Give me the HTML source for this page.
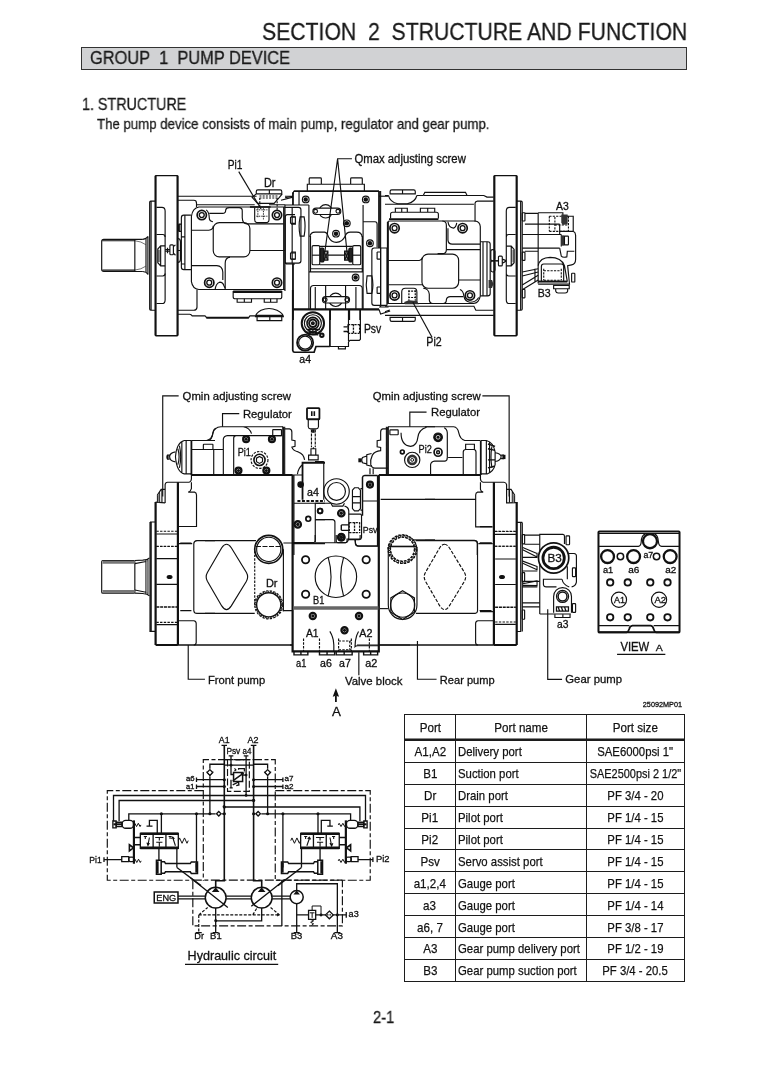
<!DOCTYPE html>
<html lang="en"><head><meta charset="utf-8"><title>Section 2 Structure and Function - Pump Device</title>
<style>
html,body{margin:0;padding:0;background:#fff;}
body{width:775px;height:1067px;position:relative;overflow:hidden;font-family:"Liberation Sans",sans-serif;color:#1a1a1a;}
.t{-webkit-text-stroke:0.3px #1a1a1a;position:absolute;white-space:nowrap;transform-origin:0 0;line-height:1;}
#bar{position:absolute;left:81px;top:47px;width:604px;height:21px;background:#d1d2d4;border:1px solid #333;}
svg{position:absolute;left:0;top:0;}
body>*{will-change:transform;}
svg *{vector-effect:non-scaling-stroke;}
svg text{font-family:"Liberation Sans",sans-serif;fill:#111;}
table{position:absolute;left:404px;top:714px;width:281px;table-layout:fixed;border-collapse:collapse;font-size:13.5px;color:#111;-webkit-text-stroke:0.25px #111;}
td,th{border:1px solid #1c1c1c;height:20.9px;padding:0;font-weight:normal;white-space:nowrap;text-align:center;overflow:visible;line-height:20px;}
td+td,th+th{border-left-color:#666;}
td:last-child,th:last-child{border-right-color:#1c1c1c;}
th{height:24px;border-bottom:2px solid #1c1c1c;line-height:22px;box-shadow:inset 0 -1px 0 #8a8a8a;}
td.l{text-align:left;padding-left:2px;}
.c{display:inline-block;position:relative;top:1px;margin:0 -20px;transform:scaleX(.86);transform-origin:50% 50%;}
.c.w{transform:scaleX(.81);}
td:last-child .c{transform:scaleX(.84);}
td:last-child .c.w{transform:scaleX(.81);}
.s{display:inline-block;position:relative;top:1px;transform:scaleX(.842);transform-origin:0 50%;}
</style></head><body>
<div class="t" style="left:262.0px;top:20.3px;font-size:24.6px;transform:scaleX(0.8620);">SECTION  2  STRUCTURE AND FUNCTION</div>
<div id="bar"></div>
<div class="t" style="left:89.5px;top:49.3px;font-size:18.0px;transform:scaleX(0.9103);">GROUP  1  PUMP DEVICE</div>
<div class="t" style="left:82.0px;top:95.7px;font-size:16.5px;transform:scaleX(0.8685);">1. STRUCTURE</div>
<div class="t" style="left:97.0px;top:115.9px;font-size:15.0px;transform:scaleX(0.8815);">The pump device consists of main pump, regulator and gear pump.</div>
<div class="t" style="left:372.8px;top:1009.5px;font-size:16.0px;transform:scaleX(0.9167);">2-1</div>
<svg width="775" height="1067" viewBox="0 0 775 1067" fill="none" stroke="#111" stroke-width="1.15" stroke-linecap="butt">
<g transform="translate(95 170) scale(0.15936)" >
<path d="M300,435 L55,435 Q42,435 42,448 L42,625 Q42,637 55,637 L300,637" /><path d="M46,444 L250,444 M46,628 L250,628 M250,435 L250,637" /><path d="M300,435 Q325,432 332,418 M300,637 Q325,640 332,655" /><path d="M250,444 Q290,448 318,468 M250,628 Q290,624 318,604"  stroke-width="0.6"/><path d="M320,432 L320,640 M332,418 L332,655" /><path d="M378,195 L350,195 Q343,195 343,202 L343,873 Q343,880 350,880 L378,880 M352,195 L352,880" /><rect x="378" y="35" width="142" height="1005" rx="5" stroke-width="1.3"/><path d="M381,38 L381,1037 M517,38 L517,1037" stroke-width="1.8"/><path d="M386,235 L420,235 Q440,235 440,258 L440,815 Q440,838 420,838 L386,838" /><path d="M386,405 L425,405 Q440,405 440,420 M386,665 L425,665 Q440,665 440,650" /><path d="M440,476 L412,476 L394,496 L394,582 L412,602 L440,602 M412,476 L412,602" /><path d="M396,500 L406,500 L406,578 L396,578 Z" fill="#555" stroke="none"/><path d="M440,500 L470,500 M440,510 L470,510 M455,488 L455,522" stroke-width="1.2"/><rect x="470" y="470" width="22" height="62" rx="6" /><path d="M492,480 L505,470 M492,522 L505,535" />
</g>
<g transform="translate(175 170) scale(0.15936)" >
<path d="M18,165 L512,165 M18,190 L118,190 Q135,190 135,208 L135,232 M135,218 L500,218 M590,218 L690,218" /><path d="M690,232 L150,232 Q110,240 103,290 L103,700 Q110,745 150,750 L690,750 M682,232 L682,750 M690,218 L690,760" /><circle cx="168" cy="283" r="29.14" stroke-width="1.7"/><circle cx="168" cy="283" r="15.5" stroke-width="1.3"/><circle cx="640" cy="283" r="29.14" stroke-width="1.7"/><circle cx="640" cy="283" r="15.5" stroke-width="1.3"/><circle cx="215" cy="707" r="29.14" stroke-width="1.7"/><circle cx="215" cy="707" r="15.5" stroke-width="1.3"/><circle cx="640" cy="707" r="29.14" stroke-width="1.7"/><circle cx="640" cy="707" r="15.5" stroke-width="1.3"/><path d="M196,250 Q215,265 215,300 Q215,322 238,325" /><path d="M215,272 L298,272 Q318,272 318,252 Q320,236 340,236 L402,236 Q422,236 422,256 L422,300 Q424,338 452,338 L682,338" /><rect x="240" y="330" width="230" height="215" rx="38" /><path d="M105,378 L212,378 Q240,376 240,350" /><path d="M470,505 L690,505" /><path d="M105,600 L262,600 Q298,602 300,640 L300,690 M345,547 Q315,552 315,585 L315,750" /><path d="M252,750 Q256,712 280,704 Q300,704 308,728 L315,742" /><path d="M500,236 L500,310 Q500,330 520,330 L570,330 Q590,330 590,310 L590,236" /><path d="M510,250 L580,250 M510,290 L580,290 M520,240 L520,300 M555,240 L555,310" stroke-dasharray="1.5 1" stroke-width="0.9"/><path d="M470,232 L600,232" stroke-width="1.6"/><path d="M100,283 L55,283 Q40,283 40,300 L40,610 Q40,625 55,625 L100,625 M62,283 L62,625 M40,420 L62,420 M40,590 L62,590" /><path d="M22,340 L40,340 M22,385 L40,385 M22,340 L22,385 M30,340 L30,385" /><path d="M18,430 Q34,430 34,450 L34,560 Q34,580 18,580 M18,505 L34,505" /><path d="M365,760 L670,760 M365,768 L670,768 M365,760 L365,795 Q365,808 378,808 L657,808 Q670,808 670,795 L670,760" /><path d="M390,808 L390,830 L480,830 L480,808 M435,808 L435,830 M560,808 L560,830 L640,830 L640,808 M600,808 L600,830" /><path d="M138,750 L138,862 Q136,880 118,880 L18,880" /><path d="M18,905 L92,905 Q102,906 108,915 L190,915 M190,915 L200,930 L460,930 L470,915 L505,915 M195,924 L465,924" /><path d="M505,920 Q505,900 540,880 Q590,858 640,880 Q680,900 680,920 Z M515,920 L515,945 L670,945 L670,920 M595,920 L595,945 M505,912 L680,912" /><path d="M520,125 L660,125 Q670,125 670,135 L670,150 L510,150 L510,135 Q510,125 520,125 Z M592,125 L592,150 M510,150 L484,172 L518,209 L622,209 L655,172 L673,150" /><path d="M530,163 L646,163 M530,176 L646,176 M641,176 L641,255 M532,176 L532,235" stroke-dasharray="2 1.2"/><path d="M665,190 L740,170 M690,165 L740,165" /><path d="M753,280 L705,280 Q692,280 692,295 L692,575 Q692,590 705,590 L753,590 M725,295 L753,295 M725,335 L753,335 M725,295 L725,335 M725,520 L753,520 M725,560 L753,560 M725,520 L725,560" /><path d="M400,10 L540,245" />
</g>
<g transform="translate(285 150) scale(0.15936)" >
<path d="M140,258 L140,215 L498,215 L498,258 M152,215 L152,180 Q152,175 158,175 L222,175 Q228,175 228,180 L228,215 M412,215 L412,180 Q412,175 418,175 L479,175 Q485,175 485,180 L485,215" /><path d="M55,258 L590,258" stroke-width="1.8"/><path d="M590,258 L590,615" stroke-width="1.8"/><path d="M50,265 L50,345 M50,710 L50,1067" stroke-width="1.8"/><path d="M50,1000 L590,1000" stroke-width="2.2"/><path d="M88,258 L88,345 M0,345 L150,345 M55,258 L50,275 M0,300 L50,290 M600,258 L600,985" /><circle cx="130" cy="310" r="21" /><circle cx="130" cy="310" r="14" fill="#111" stroke="none"/><circle cx="507" cy="310" r="21" /><circle cx="507" cy="310" r="14" fill="#111" stroke="none"/><circle cx="388" cy="460" r="21" /><circle cx="388" cy="460" r="14" fill="#111" stroke="none"/><circle cx="320" cy="525" r="21" /><circle cx="320" cy="525" r="14" fill="#111" stroke="none"/><circle cx="533" cy="585" r="21" /><circle cx="533" cy="585" r="14" fill="#111" stroke="none"/><circle cx="443" cy="800" r="21" /><circle cx="443" cy="800" r="14" fill="#111" stroke="none"/><circle cx="255" cy="385" r="42" /><rect x="175" y="365" width="175" height="40" rx="20" fill="#fff"/><circle cx="192" cy="385" r="12" /><circle cx="332" cy="385" r="12" /><circle cx="318" cy="940" r="42" /><rect x="235" y="920" width="170" height="40" rx="20" fill="#fff"/><circle cx="252" cy="940" r="12" /><circle cx="388" cy="940" r="12" /><path d="M155,545 Q160,515 190,515 L248,515 Q266,518 272,545 Q290,580 322,580 Q360,578 378,540 Q385,515 410,515 L450,515 Q480,515 485,545" /><path d="M160,540 L160,765 M485,540 L485,765 M160,745 L485,745 M150,765 L490,765 M150,345 L150,1000 M490,345 L490,1000" /><rect x="170" y="600" width="48" height="120" rx="8" /><line x1="170" y1="660" x2="218" y2="660" /><rect x="425" y="600" width="50" height="120" rx="8" /><line x1="425" y1="660" x2="475" y2="660" /><path d="M218,605 L425,605 M268,660 L375,660 M218,720 L425,720" /><rect x="222" y="615" width="22" height="88" rx="8" fill="#222"/><rect x="401" y="615" width="22" height="88" rx="8" fill="#222"/><rect x="245" y="635" width="24" height="56" rx="0" fill="#999"/><rect x="374" y="635" width="24" height="56" rx="0" fill="#999"/><path d="M245,640 L269,690 M245,690 L269,640 M374,640 L398,690 M374,690 L398,640" /><path d="M95,420 Q82,480 95,540 L120,540 Q132,480 120,420 Z" /><path d="M490,450 L565,450 Q578,450 578,465 L578,612 M515,790 Q505,845 515,900 L545,900 Q558,845 545,790 Z" /><path d="M160,1000 L160,870 Q160,850 180,850 L465,850 Q485,850 485,870 L485,1000 M190,860 L190,1000 M255,850 L255,1000 M380,850 L380,1000 M445,860 L445,1000" /><path d="M285,1000 L285,1067 M405,1000 L405,1067 M470,1000 L470,1067" /><path d="M420,55 L330,55 L250,640 M330,55 L390,650" /><path d="M0,360 L85,360 Q100,360 100,375 L100,695 Q100,710 85,710 L0,710 M45,360 L45,710 M38,420 L65,420 L65,465 L38,465 M38,640 L65,640 L65,685 L38,685" /><path d="M590,290 L650,290" /><path d="M640,615 L560,615 Q545,615 545,630 L545,960 Q545,975 560,975 L640,975 M600,615 L600,975 M578,640 L600,640 M578,685 L600,685 M578,640 L578,685 M578,860 L600,860 M578,900 L600,900 M578,860 L578,900 M640,615 L640,975" /><path d="M590,985 L650,985 M590,1000 L600,1030 L660,1010" />
</g>
<g transform="translate(285 290) scale(0.15484)" >
<path d="M50,0 L50,390 Q52,402 62,402 L188,402 L200,365 L290,365" stroke-width="1.7"/><path d="M290,125 L290,365" stroke-width="1.7"/><path d="M290,365 L410,365 L410,335 L420,325 L480,325 L487,318 L487,125 M410,125 L410,330 M345,365 L345,380 L390,380 L390,365" /><circle cx="180" cy="215" r="72" stroke-width="2"/><circle cx="180" cy="215" r="55" /><circle cx="180" cy="215" r="38" stroke-width="1.6"/><circle cx="180" cy="215" r="24" stroke-width="2"/><circle cx="180" cy="215" r="9" fill="#222"/><path d="M140,255 L225,255 M145,270 L225,280 M150,285 L215,290 M160,250 L160,285 M180,250 L180,290 M200,250 L200,290" stroke-width="1.3"/><circle cx="238" cy="292" r="11" stroke-width="2"/><circle cx="130" cy="340" r="52" stroke-width="1.8"/><circle cx="130" cy="340" r="42" /><path d="M378,238 L407,238 M378,268 L407,268" stroke-width="1.4"/><path d="M407,224 L482,224 M407,280 L482,280 M407,222 L407,282 M442,222 L442,282 M482,222 L482,282" stroke-dasharray="2.2 1" stroke-width="1.3"/>
</g>
<g transform="translate(385 170) scale(0.15936)" >
<path d="M42,125 L180,125 Q190,125 190,135 L190,150 L32,150 L32,135 Q32,125 42,125 Z M110,125 L110,150 M22,160 Q30,200 80,212 L140,212 Q190,200 200,160 M0,160 L22,160 M200,160 L240,160" /><path d="M240,160 L250,140 L505,140 L515,160 L620,160 L640,170 L682,170 M240,160 L515,160" /><path d="M0,215 L558,215 M565,325 L565,208 Q567,195 580,195 L682,195" /><path d="M65,265 L65,240 L140,240 L140,265 M105,240 L105,265 M222,265 L222,240 L312,240 L312,265 M268,240 L268,265 M35,305 L35,278 Q35,265 48,265 L322,265 Q335,265 335,278 L335,305" /><path d="M25,308 L335,308" stroke-width="1.8"/><path d="M18,325 L18,840" stroke-width="2"/><path d="M18,325 Q20,320 30,320 L565,320 Q595,322 598,355 L598,790 Q590,835 555,838 L18,838" /><circle cx="60" cy="365" r="29.14" stroke-width="1.7"/><circle cx="60" cy="365" r="15.5" stroke-width="1.3"/><circle cx="487" cy="365" r="29.14" stroke-width="1.7"/><circle cx="487" cy="365" r="15.5" stroke-width="1.3"/><circle cx="60" cy="787" r="29.14" stroke-width="1.7"/><circle cx="60" cy="787" r="15.5" stroke-width="1.3"/><circle cx="533" cy="787" r="29.14" stroke-width="1.7"/><circle cx="533" cy="787" r="15.5" stroke-width="1.3"/><path d="M360,320 Q385,322 385,345 L385,500 Q385,525 360,525 L330,525" /><rect x="232" y="528" width="230" height="214" rx="38" /><path d="M22,568 L215,568 Q232,565 235,550 M22,720 L232,720" /><path d="M395,325 Q400,362 430,365 Q446,360 450,332 M395,365 L395,440 Q397,465 422,465 L598,465 M385,500 L598,500 M462,690 L598,690" /><path d="M240,742 Q275,745 278,780 L278,815 Q280,838 300,838 M365,838 Q385,835 385,815 Q388,795 410,795 L492,795" /><path d="M470,750 Q490,755 495,790 Q500,825 533,830 Q570,830 588,800" /><path d="M105,838 L105,765 Q105,742 128,742 L180,742 Q200,742 200,765 L200,838" /><path d="M145,760 L195,760 M145,800 L195,800 M150,755 L150,820 M190,755 L190,820" stroke-dasharray="2 1" stroke-width="1.2"/><path d="M120,828 L150,818 L200,822 L212,842 L125,842 Z" fill="#333" stroke="none"/><path d="M175,830 L295,1050" /><path d="M598,450 L645,450 Q660,450 660,465 L660,775 Q660,790 645,790 L598,790 M615,450 L615,790 M640,450 L640,790" /><rect x="664" y="500" width="26" height="70" rx="12" /><rect x="664" y="570" width="26" height="70" rx="12" /><path d="M650,690 L672,690 L680,715 L672,740 L650,740 Z" fill="#333" stroke="none"/><path d="M690,570 L712,570" stroke-width="1.5"/><rect x="712" y="540" width="24" height="62" rx="6" /><path d="M736,560 L760,568 M736,585 L760,572" stroke-width="1.3"/><path d="M0,855 L558,855 L570,880 L682,880 M0,890 L30,878 M0,912 L682,912 M42,950 L180,950 Q190,950 190,940 L190,925 L32,925 L32,940 Q32,950 42,950 Z M110,925 L110,950" />
</g>
<g transform="translate(480 170) scale(0.15936)" >
<rect x="88" y="35" width="144" height="1005" rx="5" stroke-width="1.3"/><path d="M91,38 L91,1037 M229,38 L229,1037" stroke-width="1.8"/><path d="M232,195 L258,195 Q265,195 265,202 L265,873 Q265,880 258,880 L232,880 M255,195 L255,880" /><path d="M224,235 L185,235 Q165,235 165,258 L165,815 Q165,838 185,838 L224,838 M224,405 L180,405 Q165,405 165,420 M224,665 L180,665 Q165,665 165,650" /><path d="M165,478 L196,478 L214,498 L214,582 L196,602 L165,602 M196,478 L196,602" /><path d="M204,500 L216,500 L216,580 L204,580 Z" fill="#555" stroke="none"/><rect x="265" y="268" width="17" height="52" rx="3" /><rect x="265" y="515" width="17" height="52" rx="3" /><rect x="265" y="750" width="17" height="52" rx="3" /><path d="M282,272 L365,272 M282,340 L500,340 M265,405 L510,405 M265,490 L500,490 M282,510 L365,510 M365,268 L365,712" /><path d="M365,268 L520,268 L520,290 L585,290 L585,385 Q600,392 600,410 L600,560 Q600,590 575,595 L550,600 L562,720" /><path d="M500,385 L585,385 M500,340 L500,405 M510,405 L510,480 M500,490 L510,540 Q520,552 545,545 L548,510 L592,510" /><path d="M435,290 L555,290 M435,385 L555,385 M435,290 L435,385 M470,295 L470,385 M555,290 L555,385 M470,345 L555,345" stroke-dasharray="2.2 1.2" stroke-width="1.1"/><path d="M510,280 L550,280 L550,340 L518,345 L510,330 Z" fill="#333" stroke="none"/><path d="M512,410 L530,410 L530,475 L512,475 Z" fill="#333" stroke="none"/><rect x="530" y="415" width="25" height="55" rx="4" /><path d="M365,600 Q375,550 440,548 Q510,548 530,600 L548,700 M385,700 L385,605 Q385,590 400,590 L510,590 Q525,590 525,605 L525,700" /><path d="M400,632 L510,632 M400,620 L400,692 M510,620 L510,692 M400,692 L510,692" stroke-dasharray="2.2 1.2" stroke-width="1.1"/><path d="M365,700 L548,700" stroke-width="2"/><path d="M365,716 L562,716 M462,725 L560,725 L560,745 L462,745 Z M475,745 L475,760 Q478,772 490,772 L535,772 Q548,772 550,760 L550,745" /><rect x="575" y="648" width="20" height="55" rx="4" /><path d="M265,640 L365,620 M265,665 L365,640 M265,722 L365,660 M265,752 L365,690 M345,620 L345,700" />
</g>
<text x="227.7" y="169.4" font-size="12.2" textLength="14.7" lengthAdjust="spacingAndGlyphs" stroke="#111" stroke-width="0.3" >Pi1</text>
<text x="263.9" y="186.9" font-size="12.2" textLength="11.6" lengthAdjust="spacingAndGlyphs" stroke="#111" stroke-width="0.3" >Dr</text>
<text x="354.5" y="163.3" font-size="12.0" textLength="111.3" lengthAdjust="spacingAndGlyphs" stroke="#111" stroke-width="0.3" >Qmax adjusting screw</text>
<text x="556.1" y="209.6" font-size="10.2" textLength="12.7" lengthAdjust="spacingAndGlyphs" stroke="#111" stroke-width="0.3" >A3</text>
<text x="537.8" y="296.9" font-size="10.2" textLength="12.9" lengthAdjust="spacingAndGlyphs" stroke="#111" stroke-width="0.3" >B3</text>
<text x="363.9" y="333.2" font-size="12.0" textLength="17.4" lengthAdjust="spacingAndGlyphs" stroke="#111" stroke-width="0.3" >Psv</text>
<text x="299.3" y="362.5" font-size="10.2" textLength="11.7" lengthAdjust="spacingAndGlyphs" stroke="#111" stroke-width="0.3" >a4</text>
<text x="426.3" y="346.4" font-size="12.0" textLength="15.4" lengthAdjust="spacingAndGlyphs" stroke="#111" stroke-width="0.3" >Pi2</text>
<path d="M155.6,502 L155.6,645 M177.9,482.2 L177.9,645 M155.6,645 L177.9,645" stroke-width="2.2"/><path d="M177.9,645 L292.6,645" stroke-width="1.5"/><path d="M150,522 L150,631.4 L155.6,631.4 M151.2,522 L151.2,631.4 M150,522 L155.6,522" /><path d="M292.6,475 L292.6,651.3 L378.8,651.3 L378.8,475" stroke-width="2.2"/><path d="M493.9,482.2 L493.9,645 M516.7,502 L516.7,645 M493.9,645 L516.7,645" stroke-width="2.2"/><path d="M378.8,645 L493.9,645" stroke-width="1.5"/><path d="M520.7,522.4 L520.7,631.5 L516.7,631.5 M522.3,522.4 L522.3,631.5 M516.7,522.4 L522.3,522.4" /><path d="M191.4,475 L292.6,475 M378.8,475 L480.5,475" stroke-width="2.2"/><g transform="translate(95 385) scale(0.15936)" >
<path d="M525,68 L425,68 L425,700" /><path d="M605,348 L605,565" stroke-width="1.8"/><path d="M605,348 L753,348 M605,405 L753,405 M745,405 L745,565" /><path d="M605,348 L560,348 Q512,360 505,450 Q512,545 560,558 L605,558 M545,358 L545,548 M572,350 L572,556" /><path d="M520,400 Q535,450 520,500 M530,380 Q545,450 530,520" /><path d="M505,420 Q470,425 468,450 Q470,478 505,482 M468,440 L455,440 L455,465 L468,465" /><path d="M448,442 L462,442 L462,462 L448,462 Z" fill="#111" stroke="none"/><rect x="680" y="372" width="60" height="33" rx="3" /><path d="M700,348 Q735,340 740,300 Q745,275 760,272" /><path d="M440,740 L440,625 Q442,610 455,610 L590,610 Q603,608 605,590 L605,565" /><path d="M605,610 L605,650 Q600,668 585,672 L625,672 Q637,675 637,690 L637,888 L525,888" /><path d="M380,735 L440,740" /><path d="M392,735 L392,690 L415,655 L440,655 M405,735 L405,675 M420,735 L420,655" /><path d="M394,735 L394,692 L404,676 L404,735 Z" fill="#888" stroke="none"/><path d="M385,918 L520,918 M385,1012 L520,1012" stroke-dasharray="2.4 1.3"/><path d="M385,935 L520,935 M525,995 L610,995" />
</g>
<g transform="translate(95 535) scale(0.15936)" >
<rect x="42" y="160" width="208" height="205" rx="8" /><path d="M50,162 L250,162 L250,180 L46,180 Z M50,363 L250,363 L250,345 L46,345 Z" fill="#777" stroke="none"/><path d="M250,160 L300,158 Q330,155 342,143 M250,365 L300,367 Q330,370 342,382 M250,180 L320,166 M250,345 L320,359 M320,152 L320,373 M332,148 L332,378" /><path d="M322,166 L330,166 L330,359 L322,359 Z" fill="#999" stroke="none"/><path d="M385,72 L520,72 M385,548 L520,548" stroke-dasharray="2.4 1.3"/><path d="M385,148 L520,148 M385,310 L520,310 M385,562 L520,562" /><path d="M385,452 L520,452" stroke-width="1.5" stroke-dasharray="3 0.8"/><ellipse cx="468" cy="263" rx="15" ry="9" fill="#111"/><path d="M535,50 L605,50 M535,475 L605,475 M753,35 L640,35 Q620,37 620,55 L620,475 Q622,492 640,492 L753,492" /><path d="M525,538 L620,538 Q635,540 635,555 L635,675 Q633,690 620,690" /><path d="M585,690 L585,905 L690,905" />
</g>
<g transform="translate(205 385) scale(0.15936)" >
<path d="M215,180 L110,180 L110,262" /><path d="M0,348 L20,348 Q45,345 50,300 Q58,265 100,262 L490,262 M240,262 Q280,268 292,305" /><path d="M0,405 L115,405 M115,560 L115,340 Q118,320 140,318 L485,318 M180,560 L180,332 Q182,318 196,318" /><path d="M490,262 L490,560" stroke-width="1.8"/><rect x="425" y="280" width="55" height="38" rx="3" /><circle cx="258" cy="340" r="18.4" stroke-width="2.3"/><circle cx="258" cy="340" r="9.66" fill="#111" stroke="none"/><circle cx="420" cy="340" r="18.4" stroke-width="2.3"/><circle cx="420" cy="340" r="9.66" fill="#111" stroke="none"/><circle cx="210" cy="537" r="18.4" stroke-width="2.3"/><circle cx="210" cy="537" r="9.66" fill="#111" stroke="none"/><circle cx="385" cy="537" r="18.4" stroke-width="2.3"/><circle cx="385" cy="537" r="9.66" fill="#111" stroke="none"/><circle cx="342" cy="470" r="53" stroke-dasharray="2.4 1.3"/><circle cx="342" cy="470" r="35" stroke-width="1.6"/><path d="M342,448 L361,459 L361,481 L342,492 L323,481 L323,459 Z" /><path d="M500,262 L500,560 M500,275 L530,275 Q545,277 545,295 L545,345 L565,350 L565,385 L545,390 Q552,412 585,420 Q620,432 625,470 M580,560 Q585,520 612,500" /><rect x="640" y="145" width="78" height="70" rx="4" stroke-width="1.8"/><path d="M670,165 L670,195 M686,165 L686,195" stroke-width="1.6"/><path d="M648,215 L648,262 Q650,275 662,275 L698,275 Q710,275 712,262 L712,215" /><path d="M668,280 L668,390 M692,280 L692,390" stroke-dasharray="3 1"/><path d="M672,278 L688,278 L688,300 L672,300 Z" fill="#111" stroke="none"/><path d="M665,400 L695,400 L695,440 L665,440 Z M650,440 L710,440 L710,470 L650,470 Z M680,390 L680,400" /><path d="M612,720 L612,488 L753,488" stroke-width="1.8"/><path d="M580,728 L753,728" stroke-width="2" stroke-dasharray="3 1.5"/><path d="M558,565 L558,1067 M558,742 L753,742 M692,742 L692,985 M692,845 L753,845 M548,995 L753,995 M548,565 L612,565" /><circle cx="600" cy="625" r="17" fill="#111"/><circle cx="582" cy="875" r="20" stroke-width="2.3"/><circle cx="582" cy="875" r="10.5" fill="#111" stroke="none"/><circle cx="648" cy="840" r="15" stroke-width="1.7"/><circle cx="722" cy="790" r="15" stroke-width="1.7"/>
</g>
<g transform="translate(315 385) scale(0.15936)" >
<path d="M700,170 L595,170 L595,262" /><path d="M458,262 L458,560" stroke-width="1.8"/><path d="M458,262 L753,262" /><path d="M458,275 L425,275 Q412,278 412,295 L412,345 L390,350 L390,388 L412,392 L412,412 Q375,415 360,440 Q345,470 350,500 Q355,520 375,522 L458,522 M448,262 L448,560" /><path d="M355,430 L325,438 L325,502 L355,510 M325,445 L298,455 Q288,470 298,488 L325,495" /><path d="M272,460 L292,460 L292,485 L272,485 Z" fill="#111" stroke="none"/><path d="M345,522 L345,560 M365,522 L365,560" /><rect x="470" y="282" width="52" height="30" rx="3" /><path d="M540,300 Q540,380 600,385 Q640,380 645,330 Q650,280 700,265" /><circle cx="548" cy="420" r="12" stroke-width="1.7"/><circle cx="610" cy="470" r="48" /><circle cx="610" cy="470" r="25" stroke-width="2.6" stroke="#333"/><circle cx="610" cy="470" r="9" stroke-width="1"/><path d="M412,718 L753,718" /><path d="M298,820 L298,580 Q300,568 312,568 L392,568" stroke-width="1.5"/><path d="M298,728 L392,728 M392,568 L392,1010" /><circle cx="345" cy="625" r="18.4" stroke-width="2.3"/><circle cx="345" cy="625" r="9.66" fill="#111" stroke="none"/><path d="M235,660 L248,645 L272,645 L285,660 L285,775 L272,790 L248,790 L235,775 Z M235,700 L285,700 M235,740 L285,740 M285,650 L298,650 M285,785 L298,785" /><circle cx="135" cy="668" r="80" /><circle cx="135" cy="668" r="56" /><path d="M100,742 L110,760 L175,760 L185,742" /><path d="M55,480 L55,720 M0,480 L55,480" /><path d="M0,742 L100,742 M185,760 Q210,765 212,790 L212,960 Q210,985 190,990 L0,990 M0,845 L110,845 Q125,847 125,860 L125,988" /><circle cx="32" cy="790" r="15" stroke-width="1.7"/><circle cx="165" cy="805" r="20" stroke-width="2.3"/><circle cx="165" cy="805" r="10.5" fill="#111" stroke="none"/><circle cx="165" cy="955" r="20" stroke-width="2.3"/><circle cx="165" cy="955" r="10.5" fill="#111" stroke="none"/><path d="M165,878 L215,878 M165,912 L215,912 M165,878 L165,912" stroke-width="1.4"/><path d="M215,864 L280,864 M215,926 L280,926 M215,862 L215,928 M248,862 L248,928 M280,862 L280,928" stroke-dasharray="2.2 1" stroke-width="1.3"/><path d="M212,810 L285,810 Q292,812 292,820 L292,958 Q290,970 278,970 L212,970 M250,970 L255,995 Q258,1010 275,1010 L400,1010" /><circle cx="548" cy="1030" r="90" stroke-dasharray="2.4 1.3"/><circle cx="548" cy="1030" r="75" stroke-dasharray="2.4 1.3"/><path d="M620,972 L753,972" />
</g>
<g transform="translate(425 385) scale(0.15936)" >
<path d="M360,68 L528,68 L528,700" /><path d="M0,262 L180,262 Q205,265 212,300 Q220,340 250,348 L345,348" /><path d="M350,348 L350,565" stroke-width="1.8"/><circle cx="82" cy="328" r="27" fill="#111"/><circle cx="82" cy="328" r="12" stroke="#fff" stroke-width="0.7"/><circle cx="82" cy="422" r="25" stroke-width="1.7"/><circle cx="82" cy="422" r="9" stroke-width="1.5"/><path d="M35,560 L35,500 Q38,480 60,478 L125,478 Q140,475 140,455 L140,300 Q138,275 120,268 M145,455 L235,455" /><path d="M240,560 L240,420 Q242,405 255,405 L305,405 Q320,405 320,420 L320,560 M255,405 L255,372 L310,372 L310,405" /><path d="M350,348 L385,348 Q430,360 440,420 L440,500 Q430,545 390,558 L350,558 M385,350 L385,556 M405,356 L405,550 M420,385 Q408,450 420,520" /><path d="M440,425 Q475,430 478,450 Q475,475 440,480 M478,440 L492,440 L492,462 L478,462" /><path d="M486,438 L505,438 L505,465 L486,465 Z" fill="#111" stroke="none"/><path d="M395,370 L440,385 M395,400 L440,410 M395,470 L440,470 M395,520 L435,510" stroke-width="1.4"/><path d="M348,565 L348,590 Q350,608 365,610 L495,610 Q510,612 512,625 L512,740 L575,738" /><path d="M348,610 L348,655 Q350,668 365,672 L330,672 Q318,675 318,690 L318,890 L425,890 M0,718 L318,718" /><path d="M512,655 L540,655 L562,690 L562,738 M530,655 L530,738 M548,668 L548,738" /><path d="M550,738 L550,678 L560,692 L560,738 Z" fill="#888" stroke="none"/><path d="M437,918 L575,918 M437,1012 L575,1012" stroke-dasharray="2.4 1.3"/><path d="M437,938 L575,938 M335,995 L425,995 M0,975 L310,975 Q328,978 328,995 L328,1067" />
</g>
<g transform="translate(205 535) scale(0.15936)" >
<path d="M0,35 L320,35 M0,492 L312,492 M488,475 L548,475 M492,50 L548,50" /><path d="M135,58 Q150,58 165,80 L260,235 Q275,262 260,290 L165,445 Q150,468 135,468 Q120,468 105,445 L15,290 Q0,262 15,235 L105,80 Q120,58 135,58 Z" /><circle cx="400" cy="90" r="88" stroke-width="1.7"/><circle cx="400" cy="90" r="76" /><path d="M320,72 L480,72" stroke-dasharray="5 1.5"/><path d="M312,100 L312,440" stroke-dasharray="2.4 1.3"/><path d="M492,90 L492,478" /><circle cx="400" cy="438" r="88" stroke-dasharray="2.4 1.3"/><circle cx="400" cy="438" r="76" stroke-width="1.4"/><circle cx="400" cy="438" r="82" stroke-dasharray="1.5 1"/>
</g>
<g transform="translate(290 535) scale(0.15936)" >
<path d="M18,48 L150,48 Q158,45 158,35 L158,0 M290,0 L290,40 Q292,48 300,48 L350,48 Q358,48 358,40 L358,25 L440,25 L440,0 M410,25 L410,55 Q412,70 430,70 L558,70" /><circle cx="322" cy="15" r="18.4" stroke-width="2.3"/><circle cx="322" cy="15" r="9.66" fill="#111" stroke="none"/><circle cx="98" cy="155" r="23" stroke-width="1.8"/><circle cx="478" cy="155" r="23" stroke-width="1.8"/><circle cx="98" cy="372" r="23" stroke-width="1.8"/><circle cx="478" cy="372" r="23" stroke-width="1.8"/><circle cx="288" cy="262" r="130" /><path d="M240,142 Q275,262 240,382 M336,142 Q300,262 336,382" /><path d="M22,458 L555,458" stroke="#666" stroke-width="3.4"/><circle cx="143" cy="508" r="19.2" stroke-width="2.3"/><circle cx="143" cy="508" r="10.08" fill="#111" stroke="none"/><circle cx="433" cy="508" r="19.2" stroke-width="2.3"/><circle cx="433" cy="508" r="10.08" fill="#111" stroke="none"/><circle cx="342" cy="598" r="19.2" stroke-width="2.3"/><circle cx="342" cy="598" r="10.08" fill="#111" stroke="none"/><path d="M250,605 Q275,645 275,690 L275,730 M430,605 Q408,645 408,700 Q412,695 425,695 L558,695" /><path d="M85,650 L85,730 M185,650 L185,730 M498,650 L498,730 M305,665 L385,665 M305,720 L385,720 M305,650 L305,730 M385,650 L385,730 M375,665 L375,720" stroke-dasharray="2.4 1.3"/><path d="M25,731 L25,752 L112,752 L112,731 M68.5,731 L68.5,752" stroke-width="1.4"/><path d="M185,731 L185,752 L280,752 L280,731 M232.5,731 L232.5,752" stroke-width="1.4"/><path d="M290,731 L290,752 L390,752 L390,731 M340,731 L340,752" stroke-width="1.4"/><path d="M462,731 L462,752 L550,752 L550,731 M506,731 L506,752" stroke-width="1.4"/><path d="M0,690 L18,690 M420,690 L753,690" /><path d="M432,735 L432,880" /><path d="M288,962 L308,1015 L288,1008 L268,1015 Z" fill="#111" stroke="none"/><path d="M288,1010 L288,1048" stroke-width="1.8"/>
</g>
<g transform="translate(380 535) scale(0.15936)" >
<path d="M52,75 L52,440 M232,75 L232,440" /><path d="M52,72 L232,72" stroke-width="1.6"/><circle cx="142" cy="90" r="89" stroke-dasharray="2.4 1.3"/><circle cx="142" cy="90" r="76" stroke-dasharray="2.4 1.3"/><circle cx="142" cy="90" r="83" stroke-dasharray="1.2 1"/><path d="M142,350 L216,395 L216,485 L142,530 L68,485 L68,395 Z" /><circle cx="142" cy="440" r="76" /><path d="M52,440 A90 90 0 0 0 232,440" /><path d="M0,462 L50,462" /><path d="M225,35 L600,35 Q612,37 612,50 L612,478 Q610,492 598,492 L225,492" /><path d="M405,58 Q420,58 435,80 L530,235 Q545,262 530,290 L435,445 Q420,468 405,468 Q390,468 375,445 L285,290 Q270,262 285,235 L375,80 Q390,58 405,58 Z" stroke-dasharray="3.5 1.5"/><path d="M625,50 L700,50 M625,475 L700,475 M715,538 L615,538 Q600,540 600,555 L600,675 Q602,690 615,690" /><path d="M235,665 L235,905 L355,905" />
</g>
<g transform="translate(480 520) scale(0.15936)" >
<path d="M95,72 L225,72 M95,165 L225,165 M95,640 L225,640" stroke-dasharray="2.4 1.3"/><path d="M95,90 L225,90 M95,245 L225,245 M95,405 L225,405 M95,655 L225,655" /><path d="M95,547 L225,547" stroke-width="1.5" stroke-dasharray="3 0.8"/><ellipse cx="138" cy="357" rx="15" ry="9" fill="#111"/><path d="M0,42 L75,42 M0,145 L75,145 M0,575 L88,575" /><rect x="265" y="92" width="15" height="58" rx="3" /><rect x="265" y="330" width="15" height="58" rx="3" /><rect x="265" y="565" width="15" height="58" rx="3" /><path d="M280,95 L375,95 M280,152 L375,152 M265,235 L360,235 M265,320 L360,320 M265,385 L375,385 M265,420 L360,420 M265,520 L375,520 M265,545 L375,545" /><path d="M268,172 L358,210 M268,186 L358,232 M358,205 L358,235 M268,258 L358,292 M268,272 L358,312 M358,288 L358,315 M268,400 L358,382 M268,410 L358,412 M358,378 L358,415" stroke-width="1.1"/><path d="M375,590 L375,90 L520,90 Q530,92 530,100 L530,150 M375,590 L570,590" /><circle cx="462" cy="238" r="95" stroke-width="1.7" fill="#fff"/><circle cx="462" cy="238" r="67" stroke-width="2.8"/><rect x="540" y="100" width="22" height="55" rx="4" /><rect x="580" y="300" width="20" height="55" rx="4" /><rect x="580" y="525" width="20" height="55" rx="4" /><path d="M555,210 L590,210 Q605,212 605,225 L605,390 Q600,415 575,420 M548,290 L548,372 M515,372 L398,372 L398,405 Q400,420 415,420 L480,420 M515,372 Q520,405 560,420" /><path d="M462,582 L462,480 A56 56 0 0 1 574,480 L574,582" /><circle cx="518" cy="480" r="38" /><circle cx="518" cy="480" r="28" stroke-width="1.5"/><path d="M480,545 L555,545 L555,572 L480,572 Z M490,545 L500,572 M510,545 L520,572 M530,545 L540,572" stroke-width="1.3"/><path d="M470,592 L470,612 L565,612 L565,592 M520,592 L520,612" /><path d="M425,560 L425,1000 L515,1000" />
</g>
<g transform="translate(590 520) scale(0.14628)" >
<rect x="58" y="78" width="554" height="690" rx="6" stroke-width="2"/><path d="M60,92 L610,92" /><path d="M62,180 L330,180 Q348,178 350,150 Q352,102 380,95 M608,180 L490,180 Q470,178 468,150 Q465,102 440,95" /><circle cx="410" cy="145" r="48" stroke-width="2.3"/><circle cx="120" cy="250" r="44" stroke-width="2.3"/><circle cx="298" cy="250" r="44" stroke-width="2.3"/><circle cx="548" cy="250" r="44" stroke-width="2.3"/><circle cx="208" cy="250" r="22" stroke-width="1.5"/><circle cx="455" cy="250" r="22" stroke-width="1.5"/><circle cx="138" cy="427" r="22" stroke-width="1.8"/><circle cx="258" cy="427" r="22" stroke-width="1.8"/><circle cx="412" cy="427" r="22" stroke-width="1.8"/><circle cx="530" cy="427" r="22" stroke-width="1.8"/><circle cx="138" cy="665" r="22" stroke-width="1.8"/><circle cx="258" cy="665" r="22" stroke-width="1.8"/><circle cx="412" cy="665" r="22" stroke-width="1.8"/><circle cx="530" cy="665" r="22" stroke-width="1.8"/><circle cx="198" cy="545" r="52" /><circle cx="472" cy="545" r="52" /><path d="M62,722 L270,722 M435,722 L608,722" /><path d="M58,768 L250,768 Q262,765 268,745 Q272,725 290,722 L415,722 Q430,725 435,745 Q440,765 452,768 L612,768" stroke-width="1.8"/><path d="M185,918 L515,918" stroke-width="1.3"/>
</g>
<text x="182.6" y="400.1" font-size="11.8" textLength="108.4" lengthAdjust="spacingAndGlyphs" stroke="#111" stroke-width="0.3" >Qmin adjusting screw</text>
<text x="242.9" y="417.5" font-size="11.8" textLength="49.0" lengthAdjust="spacingAndGlyphs" stroke="#111" stroke-width="0.3" >Regulator</text>
<text x="372.7" y="400.1" font-size="11.8" textLength="108.1" lengthAdjust="spacingAndGlyphs" stroke="#111" stroke-width="0.3" >Qmin adjusting screw</text>
<text x="431.0" y="416.0" font-size="11.8" textLength="49.0" lengthAdjust="spacingAndGlyphs" stroke="#111" stroke-width="0.3" >Regulator</text>
<text x="237.7" y="455.9" font-size="10.5" textLength="13.2" lengthAdjust="spacingAndGlyphs" stroke="#111" stroke-width="0.3" >Pi1</text>
<text x="418.6" y="452.7" font-size="10.5" textLength="13.2" lengthAdjust="spacingAndGlyphs" stroke="#111" stroke-width="0.3" >Pi2</text>
<text x="307.0" y="496.3" font-size="10.3" textLength="11.9" lengthAdjust="spacingAndGlyphs" stroke="#111" stroke-width="0.3" >a4</text>
<text x="362.8" y="533.2" font-size="9.8" textLength="14.7" lengthAdjust="spacingAndGlyphs" stroke="#111" stroke-width="0.3" >Psv</text>
<text x="265.9" y="586.8" font-size="11.0" textLength="11.6" lengthAdjust="spacingAndGlyphs" stroke="#111" stroke-width="0.3" >Dr</text>
<text x="313.1" y="603.5" font-size="10.4" textLength="11.3" lengthAdjust="spacingAndGlyphs" stroke="#111" stroke-width="0.3" >B1</text>
<text x="306.0" y="636.7" font-size="10.3" textLength="12.6" lengthAdjust="spacingAndGlyphs" stroke="#111" stroke-width="0.3" >A1</text>
<text x="359.3" y="636.7" font-size="10.3" textLength="13.2" lengthAdjust="spacingAndGlyphs" stroke="#111" stroke-width="0.3" >A2</text>
<text x="296.0" y="667.0" font-size="10.3" textLength="10.3" lengthAdjust="spacingAndGlyphs" stroke="#111" stroke-width="0.3" >a1</text>
<text x="320.0" y="667.0" font-size="10.3" textLength="11.8" lengthAdjust="spacingAndGlyphs" stroke="#111" stroke-width="0.3" >a6</text>
<text x="339.1" y="667.0" font-size="10.3" textLength="11.8" lengthAdjust="spacingAndGlyphs" stroke="#111" stroke-width="0.3" >a7</text>
<text x="365.2" y="667.0" font-size="10.3" textLength="12.1" lengthAdjust="spacingAndGlyphs" stroke="#111" stroke-width="0.3" >a2</text>
<text x="207.9" y="684.0" font-size="11.8" textLength="57.3" lengthAdjust="spacingAndGlyphs" stroke="#111" stroke-width="0.3" >Front pump</text>
<text x="345.0" y="685.1" font-size="11.8" textLength="57.4" lengthAdjust="spacingAndGlyphs" stroke="#111" stroke-width="0.3" >Valve block</text>
<text x="439.8" y="684.0" font-size="11.8" textLength="54.9" lengthAdjust="spacingAndGlyphs" stroke="#111" stroke-width="0.3" >Rear pump</text>
<text x="565.3" y="683.3" font-size="11.8" textLength="56.7" lengthAdjust="spacingAndGlyphs" stroke="#111" stroke-width="0.3" >Gear pump</text>
<text x="547.5" y="562.2" font-size="11.6" textLength="14.3" lengthAdjust="spacingAndGlyphs" stroke="#111" stroke-width="0.3" >B3</text>
<text x="557.0" y="627.6" font-size="10.3" textLength="11.4" lengthAdjust="spacingAndGlyphs" stroke="#111" stroke-width="0.3" >a3</text>
<text x="332.1" y="715.8" font-size="13.7" textLength="8.9" lengthAdjust="spacingAndGlyphs" stroke="#111" stroke-width="0.3" >A</text>
<text x="602.9" y="573.0" font-size="9.0" textLength="10.2" lengthAdjust="spacingAndGlyphs" stroke="#111" stroke-width="0.3" >a1</text>
<text x="628.3" y="573.0" font-size="9.0" textLength="11.1" lengthAdjust="spacingAndGlyphs" stroke="#111" stroke-width="0.3" >a6</text>
<text x="665.3" y="573.0" font-size="9.0" textLength="11.0" lengthAdjust="spacingAndGlyphs" stroke="#111" stroke-width="0.3" >a2</text>
<text x="643.4" y="557.7" font-size="9.0" textLength="9.8" lengthAdjust="spacingAndGlyphs" stroke="#111" stroke-width="0.3" >a7</text>
<text x="614.1" y="603.1" font-size="9.0" textLength="11.0" lengthAdjust="spacingAndGlyphs" stroke="#111" stroke-width="0.3" >A1</text>
<text x="654.4" y="603.1" font-size="9.0" textLength="11.7" lengthAdjust="spacingAndGlyphs" stroke="#111" stroke-width="0.3" >A2</text>
<text x="620.4" y="651.2" font-size="12.0" textLength="28.8" lengthAdjust="spacingAndGlyphs" stroke="#111" stroke-width="0.3" >VIEW</text>
<text x="655.8" y="651.2" font-size="9.5" textLength="7.0" lengthAdjust="spacingAndGlyphs" stroke="#111" stroke-width="0.3" >A</text>
<text x="642.8" y="707.0" font-size="7.8" textLength="39.2" lengthAdjust="spacingAndGlyphs" stroke="#111" stroke-width="0.3" >25092MP01</text>
<path d="M224.3,745 L224.3,880.8 L215.7,880.8 L215.7,888 M253.6,745 L253.6,880.8 L261.7,880.8 L261.7,888" stroke-width="1.6"/><path d="M221.5,745.3 L227,745.3 M250.8,745.3 L256.4,745.3" stroke-width="1.3"/><path d="M113.5,821 L113.5,795.5 L365.5,795.5 L365.5,821 M119.1,821 L119.1,800.5 L253.6,800.5 M224.3,807 L359.9,807 L359.9,821" stroke-width="1.3"/><path d="M128.8,821 L128.8,813.9 L215.6,813.9 M221.8,813.9 L224.3,813.9 M253.6,813.9 L255.3,813.9 M261.3,813.9 L350.6,813.9 L350.6,821" stroke-width="1.3"/><g transform="translate(85 725) scale(0.20645)" >
<path d="M573,318 L108,318 L108,752 L520,752" stroke-dasharray="9 2.5 4 2.5"/><path d="M775,168 L573,168 L573,755" stroke-dasharray="9 2.5 4 2.5"/><path d="M675,190 L605,190 L605,212 M605,248 L605,430" stroke-width="1.3"/><path d="M605,216 L619,230 L605,244 L591,230 Z" fill="#fff" stroke-width="1.3"/><path d="M590,226 L605,246 L620,226" stroke-width="1"/><path d="M540,254 L540,276 M540,265 L675,265 M540,288 L540,310 M540,298 L675,298" stroke-width="1.3"/><circle cx="675" cy="265" r="7.5" fill="#111" stroke="none"/><circle cx="675" cy="298" r="7.5" fill="#111" stroke="none"/><circle cx="675" cy="397" r="7.5" fill="#111" stroke="none"/><circle cx="675" cy="430" r="7.5" fill="#111" stroke="none"/><circle cx="605" cy="430" r="7.5" fill="#111" stroke="none"/><circle cx="540" cy="430" r="7.5" fill="#111" stroke="none"/><circle cx="370" cy="430" r="7.5" fill="#111" stroke="none"/><path d="M648,419 L659,430 L648,441 L637,430 Z" fill="#fff" stroke-width="1.3"/><rect x="135" y="465" width="16" height="33" rx="0" stroke-width="1.3"/><rect x="151" y="471" width="28" height="21" rx="0" stroke-width="1.3"/><rect x="180" y="462" width="55" height="38" rx="17" stroke-width="1.3"/><path d="M138,481 L180,481" stroke-width="2"/><path d="M237,484 L241.25,476 L249.75,492 L258.25,476 L266.75,492 L271,484" stroke-width="1"/><path d="M237,462 L237,672" stroke-width="2.2"/><path d="M215,580 L235,595 L215,610 Z" fill="#fff" stroke-width="1.6"/><path d="M92,640 L92,664 M92,652 L178,652" stroke-width="1.3"/><rect x="178" y="638" width="34" height="24" rx="0" stroke-width="1.3"/><rect x="212" y="640" width="25" height="22" rx="8" stroke-width="1.3"/><path d="M238,658 L242.25,650 L250.75,666 L259.25,650 L267.75,666 L272,658" stroke-width="1"/><path d="M298,490 L327,490 M312,490 L312,462 L350,462 L350,525" stroke-width="1.3"/><rect x="268" y="525" width="184" height="72" rx="0" stroke-width="1.3"/><path d="M268,527 L452,527 M268,595 L452,595" stroke-width="2.6"/><path d="M330,525 L330,597 M392,525 L392,597" stroke-width="1.3"/><path d="M285,540 L300,540 M292,540 L292,552 M305,582 L312,545 M300,570 L305,584 L312,572 M340,545 L380,545 M360,545 L360,560 M345,568 L375,568 M360,568 L360,590 M405,540 L420,540 M412,540 L412,552 M425,545 L438,585 M418,550 L425,543 L433,552" stroke-width="1.1"/><path d="M452,560 L458,547 L470,573 L482,547 L494,573 L500,560" stroke-width="1"/><path d="M370,430 L370,525 M358,597 L358,655 M445,597 L445,690 M540,430 L540,690" stroke-width="1.3"/><path d="M237,545 L268,545 M237,580 L268,580" stroke-width="1.3"/><path d="M346,655 L369,655 L369,723 L346,723 Z M353,660 L353,718" stroke-width="1.5"/><path d="M369,662 L385,662 L390,671 L510,671 L515,663 L545,663 L545,719 L515,719 L510,711 L390,711 L385,718 L369,718 M538,668 L538,714" stroke-width="1.5"/><path d="M445,690 L562,778" stroke-width="1.3"/>
</g>
<g transform="translate(235 725) scale(0.20645)" >
<path d="M195,318 L655,318 L655,752 L195,752" stroke-dasharray="9 2.5 4 2.5"/><path d="M0,168 L195,168 L195,755" stroke-dasharray="9 2.5 4 2.5"/><path d="M90,190 L158,190 L158,212 M158,248 L158,430" stroke-width="1.3"/><path d="M158,216 L172,230 L158,244 L144,230 Z" fill="#fff" stroke-width="1.3"/><path d="M143,226 L158,246 L173,226" stroke-width="1"/><path d="M232,254 L232,276 M90,265 L232,265 M232,288 L232,310 M90,298 L232,298" stroke-width="1.3"/><circle cx="90" cy="265" r="7.5" fill="#111" stroke="none"/><circle cx="90" cy="298" r="7.5" fill="#111" stroke="none"/><circle cx="90" cy="365" r="7.5" fill="#111" stroke="none"/><circle cx="90" cy="430" r="7.5" fill="#111" stroke="none"/><circle cx="158" cy="430" r="7.5" fill="#111" stroke="none"/><circle cx="232" cy="430" r="7.5" fill="#111" stroke="none"/><circle cx="402" cy="430" r="7.5" fill="#111" stroke="none"/><path d="M112,419 L123,430 L112,441 L101,430 Z" fill="#fff" stroke-width="1.3"/><rect x="624" y="465" width="16" height="33" rx="0" stroke-width="1.3"/><rect x="596" y="471" width="28" height="21" rx="0" stroke-width="1.3"/><rect x="540" y="462" width="55" height="38" rx="17" stroke-width="1.3"/><path d="M595,481 L637,481" stroke-width="2"/><path d="M500,484 L504.5,476 L513.5,492 L522.5,476 L531.5,492 L536,484" stroke-width="1"/><path d="M537,462 L537,672" stroke-width="2.2"/><path d="M560,580 L540,595 L560,610 Z" fill="#fff" stroke-width="1.6"/><path d="M668,640 L668,664 M595,652 L668,652" stroke-width="1.3"/><rect x="562" y="638" width="34" height="24" rx="0" stroke-width="1.3"/><rect x="538" y="640" width="25" height="22" rx="8" stroke-width="1.3"/><path d="M500,658 L504.5,650 L513.5,666 L522.5,650 L531.5,666 L536,658" stroke-width="1"/><path d="M447,490 L474,490 M460,490 L460,462 L418,462 L418,525" stroke-width="1.3"/><rect x="318" y="525" width="187" height="72" rx="0" stroke-width="1.3"/><path d="M318,527 L505,527 M318,595 L505,595" stroke-width="2.6"/><path d="M380,525 L380,597 M442,525 L442,597" stroke-width="1.3"/><path d="M335,540 L350,540 M342,540 L342,552 M348,585 L362,545 M352,552 L360,543 L366,554 M392,545 L432,545 M412,545 L412,560 M397,568 L427,568 M412,568 L412,590 M470,540 L485,540 M478,540 L478,552 M460,545 L468,585 M460,572 L468,586 L474,573" stroke-width="1.1"/><path d="M270,560 L276,547 L288,573 L300,547 L312,573 L318,560" stroke-width="1"/><path d="M402,430 L402,525 M412,597 L412,655 M322,597 L322,690 M232,430 L232,690" stroke-width="1.3"/><path d="M505,545 L537,545 M505,580 L537,580" stroke-width="1.3"/><path d="M424,655 L401,655 L401,723 L424,723 Z M417,660 L417,718" stroke-width="1.5"/><path d="M401,662 L385,662 L380,671 L260,671 L255,663 L225,663 L225,719 L255,719 L260,711 L380,711 L385,718 L401,718 M232,668 L232,714" stroke-width="1.5"/><path d="M322,690 L208,778" stroke-width="1.3"/>
</g>
<g transform="translate(195 735) scale(0.11613)" >
<path d="M250,212 L505,212 M280,212 L280,485 L468,485 L468,212" stroke-dasharray="7 2.5"/><path d="M290,180 L330,180 M310,180 L310,340 L330,340 M420,180 L460,180 M440,180 L440,520 M250,260 L505,260" stroke-width="1.3"/><circle cx="310" cy="260" r="12" fill="#111" stroke="none"/><circle cx="440" cy="345" r="12" fill="#111" stroke="none"/><circle cx="440" cy="520" r="12" fill="#111" stroke="none"/><circle cx="250" cy="618" r="12" fill="#111" stroke="none"/><circle cx="505" cy="565" r="12" fill="#111" stroke="none"/><path d="M410,345 L440,345" stroke-width="1.3"/><rect x="332" y="322" width="78" height="78" rx="0" stroke-width="1.5"/><path d="M325,395 L415,330 M395,333 L415,330 L405,348" stroke-width="1.5"/><path d="M340,288 L352,300 L340,310 M375,300 L375,290 L425,290 L425,315" stroke-width="1.2"/><path d="M310,385 L310,450 M298,455 L325,455 M325,430 L375,405 L378,430 L355,435" stroke-width="1.3"/>
</g>
<g transform="translate(140 860) scale(0.29677)" >
<rect x="48" y="108" width="80" height="37" rx="0" stroke-width="1.5"/><path d="M128,122 L220,122 M128,131 L220,131 M290,122 L375,122 M290,131 L375,131 M445,122 L507,122 M445,131 L507,131" stroke-width="1.3"/><circle cx="255" cy="127" r="35" stroke-width="1.5" fill="#fff"/><circle cx="410" cy="127" r="35" stroke-width="1.5" fill="#fff"/><path d="M255,92 L268,108 L242,108 Z M410,92 L423,108 L397,108 Z M528,103 L539,116 L517,116 Z" fill="#111" stroke="none"/><path d="M170,60 L296,160 M490,65 L375,156" stroke-width="1.3"/><circle cx="528" cy="125" r="22" stroke-width="1.5"/><path d="M178,68 L178,222 L682,222 L682,68" stroke-dasharray="9 2.5 4 2.5"/><path d="M178,68 L682,68" stroke-dasharray="9 2.5 4 2.5"/><path d="M478,68 L478,222" stroke-width="1.3"/><path d="M528,147 L528,245 M518,245 L538,245 M528,103 L528,80 L665,80 L665,245 M655,245 L675,245" stroke-width="1.3"/><path d="M198,185 L470,185 M198,185 L198,245 M198,185 L228,160 M380,185 L395,160 M440,160 L470,185" stroke-dasharray="3 1.5" stroke-width="1.2"/><path d="M188,245 L208,245 M245,245 L265,245" stroke-width="1.3"/><path d="M255,162 L255,245 M255,205 L410,205 L410,162" stroke-width="1.3"/><circle cx="255" cy="205" r="5" fill="#111" stroke="none"/><path d="M462,180 L472,185 L462,190 Z" fill="#111" stroke="none"/><rect x="568" y="170" width="24" height="30" rx="0" stroke-width="1.3"/><path d="M575,200 L585,205 L575,210 L585,215 L578,220 M580,170 L580,155 L610,155 L610,185" stroke-width="1"/><path d="M572,178 L588,178 M580,178 L580,195" stroke-width="1"/><path d="M528,185 L568,185 M592,185 L695,185 M695,175 L695,195" stroke-width="1.3"/><path d="M638,172 L651,185 L638,198 L625,185 Z" fill="#fff" stroke-width="1.3"/><path d="M630,185 L646,185" stroke-dasharray="1.5 1"/><circle cx="610" cy="185" r="5" fill="#111" stroke="none"/><circle cx="665" cy="185" r="5" fill="#111" stroke="none"/>
</g>
<text x="218.8" y="742.8" font-size="9.0" textLength="10.8" lengthAdjust="spacingAndGlyphs" stroke="#111" stroke-width="0.3" >A1</text>
<text x="247.6" y="742.8" font-size="9.0" textLength="11.0" lengthAdjust="spacingAndGlyphs" stroke="#111" stroke-width="0.3" >A2</text>
<text x="226.4" y="753.7" font-size="8.6" textLength="13.9" lengthAdjust="spacingAndGlyphs" stroke="#111" stroke-width="0.3" >Psv</text>
<text x="242.6" y="753.7" font-size="8.6" textLength="8.8" lengthAdjust="spacingAndGlyphs" stroke="#111" stroke-width="0.3" >a4</text>
<text x="186.0" y="780.6" font-size="7.8" textLength="8.7" lengthAdjust="spacingAndGlyphs" stroke="#111" stroke-width="0.3" >a6</text>
<text x="186.0" y="788.5" font-size="7.8" textLength="8.3" lengthAdjust="spacingAndGlyphs" stroke="#111" stroke-width="0.3" >a1</text>
<text x="284.5" y="780.6" font-size="7.8" textLength="9.0" lengthAdjust="spacingAndGlyphs" stroke="#111" stroke-width="0.3" >a7</text>
<text x="284.5" y="788.5" font-size="7.8" textLength="9.0" lengthAdjust="spacingAndGlyphs" stroke="#111" stroke-width="0.3" >a2</text>
<text x="89.3" y="862.5" font-size="9.2" textLength="12.4" lengthAdjust="spacingAndGlyphs" stroke="#111" stroke-width="0.3" >Pi1</text>
<text x="376.0" y="861.8" font-size="9.2" textLength="13.6" lengthAdjust="spacingAndGlyphs" stroke="#111" stroke-width="0.3" >Pi2</text>
<text x="156.3" y="900.8" font-size="9.0" textLength="19.9" lengthAdjust="spacingAndGlyphs" stroke="#111" stroke-width="0.3" >ENG</text>
<text x="348.6" y="917.0" font-size="9.0" textLength="10.1" lengthAdjust="spacingAndGlyphs" stroke="#111" stroke-width="0.3" >a3</text>
<text x="194.3" y="939.4" font-size="9.2" textLength="9.7" lengthAdjust="spacingAndGlyphs" stroke="#111" stroke-width="0.3" >Dr</text>
<text x="210.1" y="939.4" font-size="9.2" textLength="11.6" lengthAdjust="spacingAndGlyphs" stroke="#111" stroke-width="0.3" >B1</text>
<text x="290.7" y="939.4" font-size="9.2" textLength="11.6" lengthAdjust="spacingAndGlyphs" stroke="#111" stroke-width="0.3" >B3</text>
<text x="330.8" y="939.4" font-size="9.2" textLength="12.1" lengthAdjust="spacingAndGlyphs" stroke="#111" stroke-width="0.3" >A3</text>
<text x="187.6" y="959.9" font-size="13.4" textLength="88.7" lengthAdjust="spacingAndGlyphs" stroke="#111" stroke-width="0.3" >Hydraulic circuit</text>
<line x1="185" y1="964.4" x2="278.2" y2="964.4" stroke-width="1.3"/></svg>
<table><colgroup><col style="width:51px"><col style="width:131px"><col style="width:98px"></colgroup>
<thead><tr><th><span class="c">Port</span></th><th><span class="c">Port name</span></th><th><span class="c">Port size</span></th></tr></thead>
<tbody>
<tr><td class="m"><span class="c">A1,A2</span></td><td class="l"><span class="s">Delivery port</span></td><td class="m"><span class="c">SAE6000psi 1&quot;</span></td></tr>
<tr><td class="m"><span class="c">B1</span></td><td class="l"><span class="s">Suction port</span></td><td class="m"><span class="c w">SAE2500psi 2 1/2&quot;</span></td></tr>
<tr><td class="m"><span class="c">Dr</span></td><td class="l"><span class="s">Drain port</span></td><td class="m"><span class="c">PF 3/4 - 20</span></td></tr>
<tr><td class="m"><span class="c">Pi1</span></td><td class="l"><span class="s">Pilot port</span></td><td class="m"><span class="c">PF 1/4 - 15</span></td></tr>
<tr><td class="m"><span class="c">Pi2</span></td><td class="l"><span class="s">Pilot port</span></td><td class="m"><span class="c">PF 1/4 - 15</span></td></tr>
<tr><td class="m"><span class="c">Psv</span></td><td class="l"><span class="s">Servo assist port</span></td><td class="m"><span class="c">PF 1/4 - 15</span></td></tr>
<tr><td class="m"><span class="c">a1,2,4</span></td><td class="l"><span class="s">Gauge port</span></td><td class="m"><span class="c">PF 1/4 - 15</span></td></tr>
<tr><td class="m"><span class="c">a3</span></td><td class="l"><span class="s">Gauge port</span></td><td class="m"><span class="c">PF 1/4 - 14</span></td></tr>
<tr><td class="m"><span class="c">a6, 7</span></td><td class="l"><span class="s">Gauge port</span></td><td class="m"><span class="c">PF 3/8 - 17</span></td></tr>
<tr><td class="m"><span class="c">A3</span></td><td class="l"><span class="s">Gear pump delivery port</span></td><td class="m"><span class="c">PF 1/2 - 19</span></td></tr>
<tr><td class="m"><span class="c">B3</span></td><td class="l"><span class="s">Gear pump suction port</span></td><td class="m"><span class="c">PF 3/4 - 20.5</span></td></tr>
</tbody></table>
</body></html>
